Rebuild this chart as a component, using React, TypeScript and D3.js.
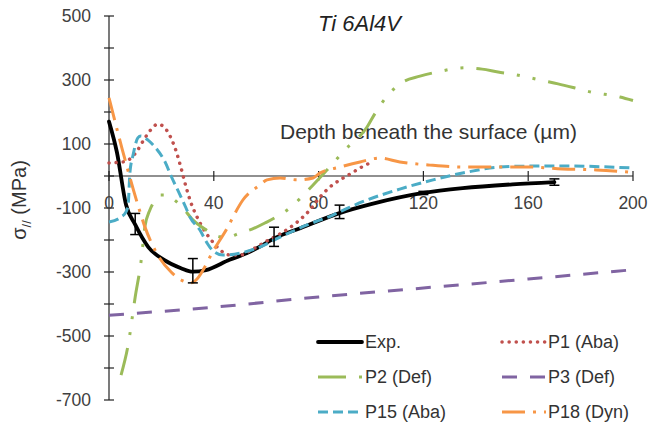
import React from 'react';
import * as d3 from 'd3';

const W = 649;
const H = 427;

const xTickValues = [0, 40, 80, 120, 160, 200];
const yTickValues = [500, 400, 300, 200, 100, 0, -100, -200, -300, -400, -500, -600, -700];
const yLabelValues = [500, 300, 100, -100, -300, -500, -700];

const expDepth = [0, 3, 6.5, 10, 15, 21, 27.5, 32, 37, 46, 52.7, 58.8, 63, 73, 88, 100, 120, 135, 154, 170];
const expStress = [170, 75, -90, -152, -222, -262, -288, -299, -294, -262, -241, -215, -195, -163, -116, -88, -53, -38, -26, -19];

const errDepth = [10, 32, 63, 88, 120, 170];
const errMean = [-150, -296, -190, -112, -53, -19];
const errHalf = [33, 38, 30, 21, 5, 10];

const p1Depth = [0, 5.3, 8.4, 10.7, 13, 15.6, 18.7, 21, 23.3, 25.6, 27.5, 29.4, 31.3, 33.6, 36.3, 39.3, 42.4, 46.2, 50, 55, 60.3, 65.3, 71.8, 76.7, 80.5, 84.4, 88.2, 92, 95.8, 100.4];
const p1Stress = [41, 44, 56, 78, 109, 141, 162, 153, 125, 78, 25, -34, -84, -128, -169, -203, -231, -247, -247, -228, -203, -181, -144, -106, -66, -34, -12, 6, 25, 44];

const p2Depth = [4.6, 7.3, 10, 12.2, 13.7, 15.6, 18, 19.5, 21.8, 24, 27.9, 32, 36.6, 42.4, 45.4, 50, 54.6, 59.5, 69, 77.9, 83.2, 90, 98.5, 101.5, 106, 111, 118.7, 125.2, 135.9, 142.4, 148.5, 154.2, 165.6, 171.4, 177.9, 183.6, 195, 200];
const p2Stress = [-622, -528, -378, -269, -159, -106, -72, -59, -59, -69, -97, -137, -166, -190, -190, -178, -166, -147, -100, -28, 19, 81, 153, 195, 248, 288, 312, 325, 338, 334, 325, 318, 298, 288, 275, 263, 247, 236];

const p3Depth = [0, 40, 80, 120, 160, 200];
const p3Stress = [-435, -410, -378, -350, -322, -293];

const p15Depth = [0, 4.6, 6.5, 7.3, 8, 9.2, 11, 12.2, 14.9, 17.9, 21.4, 23.7, 27.1, 29.4, 30.9, 34.7, 37.4, 39.7, 43.5, 50, 57.6, 65.3, 75.6, 85.5, 92, 98.5, 111, 123.7, 136.6, 149, 161.8, 174.8, 200];
const p15Stress = [-144, -128, -112, -91, 12, 66, 119, 125, 112, 87, 44, 0, -59, -100, -128, -169, -209, -234, -247, -241, -222, -191, -153, -122, -97, -75, -41, -12, 12, 28, 31, 31, 25];

const p18Depth = [0, 5, 11, 13.7, 17.9, 23.7, 27.5, 31.3, 33.6, 35.9, 39.3, 45.4, 48.1, 51.1, 57.6, 60.3, 65.3, 71.8, 77.9, 80.5, 88.2, 95.8, 103.4, 111, 122.5, 135, 148, 160.7, 173, 186, 199];
const p18Stress = [244, 85, -90, -159, -237, -300, -325, -334, -322, -294, -241, -159, -116, -75, -28, -12, -6, -12, -6, 9, 28, 44, 56, 44, 34, 28, 28, 28, 22, 19, 12];

const seriesNames = ['Exp.', 'P1 (Aba)', 'P2 (Def)', 'P3 (Def)', 'P15 (Aba)', 'P18 (Dyn)'];
const seriesColors = ['#000000', '#C0504D', '#9BBB59', '#8064A2', '#4BACC6', '#F79646'];
const seriesDash = ['none', '0.1 7', '28 13 3 13 3 13', '15 13', '10 5', '23 8 3 8'];
const seriesWidth = [3.8, 3.5, 3, 3, 3, 3];
const seriesCap = ['round', 'round', 'butt', 'butt', 'butt', 'butt'];
const seriesDepths = [expDepth, p1Depth, p2Depth, p3Depth, p15Depth, p18Depth];
const seriesStress = [expStress, p1Stress, p2Stress, p3Stress, p15Stress, p18Stress];

const legendCol = [0, 1, 0, 1, 0, 1];
const legendRow = [0, 0, 1, 1, 2, 2];

const FONT = '"Liberation Sans", Arial, sans-serif';

export default function App() {
  const x = d3.scaleLinear().domain([0, 200]).range([109, 633]);
  const y = d3.scaleLinear().domain([-700, 500]).range([400, 16]);
  const line = d3
    .line<[number, number]>()
    .x((d) => x(d[0]))
    .y((d) => y(d[1]))
    .curve(d3.curveMonotoneX);

  const legendLineX = [318, 502];
  const legendTextX = [365, 548];
  const legendY = [342, 377, 412];

  return (
    <svg
      width={W}
      height={H}
      style={{ position: 'absolute', left: 0, top: 0, background: '#fff' }}
      fontFamily={FONT}
    >
      <rect x={0} y={0} width={W} height={H} fill="#fff" />
      {/* title */}
      <text x={318} y={31} fontSize={22} fontStyle="italic" fill="#222">Ti 6Al4V</text>

      {/* y axis */}
      <line x1={x(0)} x2={x(0)} y1={y(500)} y2={y(-700)} stroke="#222" strokeWidth={1.2} />
      {yTickValues.map((v) => (
        <line key={'yt' + v} x1={x(0) - 5} x2={x(0) + 5} y1={y(v)} y2={y(v)} stroke="#222" strokeWidth={1.2} />
      ))}
      {yLabelValues.map((v) => (
        <text key={'yl' + v} x={91} y={y(v)} dy="0.35em" textAnchor="end" fontSize={17.5} fill="#404040">
          {v}
        </text>
      ))}

      {/* x axis */}
      <line x1={x(0)} x2={x(200)} y1={y(0)} y2={y(0)} stroke="#222" strokeWidth={1.2} />
      {xTickValues.map((v) => (
        <line key={'xt' + v} x1={x(v)} x2={x(v)} y1={y(0) - 5} y2={y(0) + 5} stroke="#222" strokeWidth={1.2} />
      ))}
      {xTickValues.map((v) => (
        <text key={'xl' + v} x={x(v)} y={209} textAnchor="middle" fontSize={17.5} fill="#404040">
          {v}
        </text>
      ))}

      <text x={280} y={139} fontSize={21} fill="#333">Depth beneath the surface (µm)</text>

      {/* y title */}
      <text transform="translate(26,200) rotate(-90)" textAnchor="middle" fontSize={20} fill="#333">
        σ<tspan fontSize={13} dy={5}>//</tspan>
        <tspan dy={-5}> (MPa)</tspan>
      </text>

      {/* series */}
      {seriesNames.map((name, i) => {
        const pts = seriesDepths[i].map((d, k) => [d, seriesStress[i][k]] as [number, number]);
        return (
          <path
            key={name}
            d={line(pts) || ''}
            fill="none"
            stroke={seriesColors[i]}
            strokeWidth={seriesWidth[i]}
            strokeDasharray={seriesDash[i]}
            strokeLinecap={seriesCap[i] as any}
          />
        );
      })}

      {/* error bars */}
      {errDepth.map((d, k) => (
        <g key={'eb' + k} stroke="#000" strokeWidth={1.5}>
          <line x1={x(d)} x2={x(d)} y1={y(errMean[k] - errHalf[k])} y2={y(errMean[k] + errHalf[k])} />
          <line x1={x(d) - 5} x2={x(d) + 5} y1={y(errMean[k] - errHalf[k])} y2={y(errMean[k] - errHalf[k])} />
          <line x1={x(d) - 5} x2={x(d) + 5} y1={y(errMean[k] + errHalf[k])} y2={y(errMean[k] + errHalf[k])} />
        </g>
      ))}

      {/* legend */}
      {seriesNames.map((name, i) => {
        const lx = legendLineX[legendCol[i]];
        const ly = legendY[legendRow[i]];
        return (
          <g key={'lg' + name}>
            <line
              x1={lx}
              x2={lx + 44}
              y1={ly}
              y2={ly}
              stroke={seriesColors[i]}
              strokeWidth={seriesWidth[i]}
              strokeDasharray={seriesDash[i]}
              strokeLinecap={seriesCap[i] as any}
            />
            <text x={legendTextX[legendCol[i]]} y={ly} dy="0.35em" fontSize={18} fill="#333">
              {name}
            </text>
          </g>
        );
      })}
    </svg>
  );
}
